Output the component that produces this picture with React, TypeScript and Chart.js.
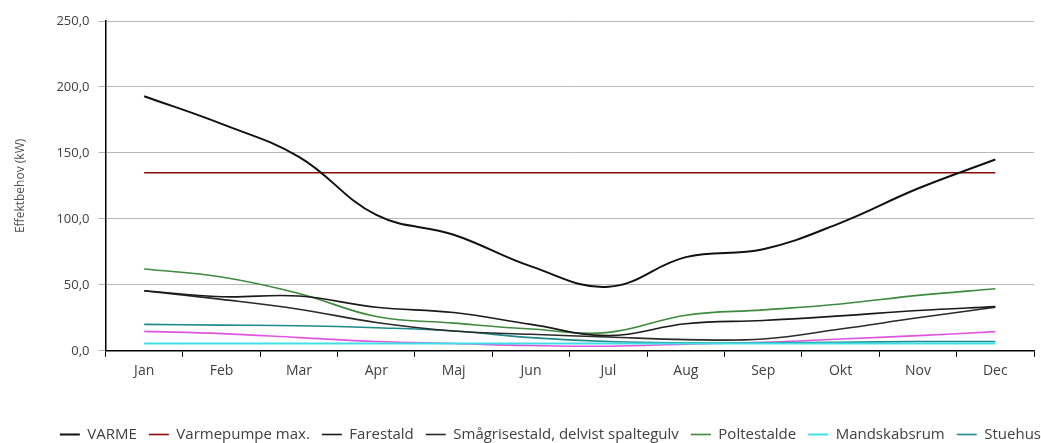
import React, { useEffect, useRef } from "react";
import { Chart, registerables } from "chart.js";

Chart.register(...registerables);

const months = ["Jan", "Feb", "Mar", "Apr", "Maj", "Jun", "Jul", "Aug", "Sep", "Okt", "Nov", "Dec"];
const varme = [193, 172, 147, 103, 88, 64, 48.5, 71, 77, 97, 123, 145];
const varmepumpeMax = [135, 135, 135, 135, 135, 135, 135, 135, 135, 135, 135, 135];
const farestald = [45.5, 41, 41.5, 33, 29, 20, 11.5, 20.5, 23, 26.5, 30.5, 33.5];
const smaagrisestald = [45.5, 39, 31.5, 21.5, 15, 12.5, 10.5, 8.5, 9, 16.5, 25, 33];
const poltestalde = [62, 56, 43.5, 26, 21, 16.5, 14, 27, 31, 35.5, 42, 47];
const mandskabsrum = [5.5, 5.5, 5.5, 5.5, 5.5, 5.5, 5.5, 5.5, 5.5, 5.5, 5.5, 5.5];
const stuehus = [20, 19.5, 19, 17.5, 15, 10, 7, 6, 6, 6.5, 7, 7];
const oevrigt = [14.7, 13, 10, 7, 5.5, 4, 3.5, 5, 6.5, 9, 11.5, 14.5];

const yMin = 0;
const yMax = 250;
const yStep = 50;

const FONT = "'Open Sans', sans-serif";
const TEXT = "#404040";

const legendShift = {
  id: "legendShift",
  afterLayout(chart: any) {
    const lg = chart.legend;
    if (lg) {
      lg.left += 19;
      lg.right += 19;
    }
  },
};

export default function App() {
  const ref = useRef<HTMLCanvasElement | null>(null);

  useEffect(() => {
    if (!ref.current) return;
    const mk = (label: string, data: number[], color: string, width: number) => ({
      label,
      data,
      borderColor: color,
      backgroundColor: color,
      borderWidth: width,
      pointRadius: 0,
      tension: 0.4,
      fill: false,
    });
    const chart = new Chart(ref.current, {
      type: "line",
      data: {
        labels: months,
        datasets: [
          mk("VARME", varme, "#111111", 2),
          mk("Varmepumpe max.", varmepumpeMax, "#8b0a0a", 1.6),
          mk("Farestald", farestald, "#1a1a1a", 1.6),
          mk("Smågrisestald, delvist spaltegulv", smaagrisestald, "#2a2a2a", 1.6),
          mk("Poltestalde", poltestalde, "#3f8a3f", 1.6),
          mk("Mandskabsrum", mandskabsrum, "#3ee0e8", 2),
          mk("Stuehus", stuehus, "#1f8a8a", 1.6),
          mk("", oevrigt, "#e055e0", 1.6),
        ],
      },
      plugins: [legendShift],
      options: {
        animation: false,
        responsive: true,
        maintainAspectRatio: false,
        layout: { padding: { top: 21, right: 7, left: 13, bottom: 0 } },
        plugins: {
          tooltip: { enabled: false },
          legend: {
            position: "bottom",
            align: "end",
            labels: {
              filter: (item: any) => item.text !== "",
              usePointStyle: true,
              pointStyle: "line",
              pointStyleWidth: 20,
              boxHeight: 15,
              padding: 12,
              color: TEXT,
              font: { family: FONT, size: 15 },
            },
          },
        },
        scales: {
          x: {
            type: "category",
            offset: true,
            border: { color: "#000", width: 1.5 },
            grid: { offset: true, drawOnChartArea: false, drawTicks: true, tickLength: 6, color: "#000", lineWidth: 1 },
            ticks: { color: TEXT, font: { family: FONT, size: 14 }, padding: 6 },
            title: { display: true, text: "", padding: { top: 5, bottom: 10 } },
          },
          y: {
            min: yMin,
            max: yMax,
            border: { color: "#000", width: 1.5 },
            grid: { color: "#b8b8b8", lineWidth: 1, tickLength: 7 },
            ticks: {
              stepSize: yStep,
              color: TEXT,
              padding: 9,
              font: { family: FONT, size: 13 },
              callback: (v: any) => Number(v).toFixed(1).replace(".", ","),
            },
            title: {
              display: true,
              text: "Effektbehov (kW)",
              color: "#505050",
              font: { family: FONT, size: 12 },
              padding: { top: 0, bottom: 20 },
            },
          },
        },
      },
    });
    return () => chart.destroy();
  }, []);

  return (
    <div style={{ position: "fixed", left: 0, top: 0, width: 1041, height: 452, background: "#fff" }}>
      <canvas ref={ref} />
    </div>
  );
}
